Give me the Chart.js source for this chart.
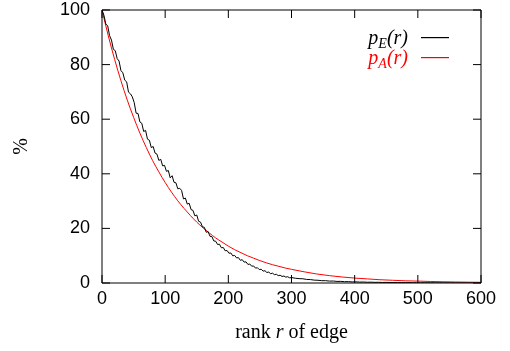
<!DOCTYPE html>
<html>
<head>
<meta charset="utf-8">
<script src="https://cdn.jsdelivr.net/npm/chart.js@4.4.1/dist/chart.umd.min.js"></script>
<style>
  html, body { margin: 0; padding: 0; background: #fff; }
  #wrap { width: 510px; height: 351px; }
</style>
</head>
<body>
<div id="wrap"><canvas id="chart" width="510" height="351"></canvas></div>
<script>
// x axis / y axis ticks
const xTicks = [0, 100, 200, 300, 400, 500, 600];
const yTicks = [0, 20, 40, 60, 80, 100];

// p_E(r): measured curve, read every 3 ranks up to 300, then every 6 ranks
const eHeadStep = 3;
const eHead = [
  100, 98.1, 94.9, 94.2, 90.6, 89.0, 85.6, 85.1, 82.2, 81.3,
  77.8, 77.0, 74.3, 73.7, 69.9, 69.3, 68.2, 66.1, 62.2, 62.1,
  59.0, 58.5, 55.5, 55.9, 52.7, 52.3, 49.6, 50.0, 47.6, 47.2,
  44.9, 45.3, 42.9, 43.1, 40.9, 41.2, 38.5, 39.3, 36.9, 36.7,
  34.5, 34.7, 33.9, 30.8, 31.1, 28.9, 29.2, 26.9, 26.6, 24.6,
  24.9, 22.6, 22.3, 20.6, 20.4, 18.6, 18.8, 17.1, 17.0, 15.4,
  15.3, 14.1, 14.2, 12.9, 13.0, 11.8, 11.9, 10.9, 11.0, 9.95,
  10.1, 9.2, 9.3, 8.3, 8.55, 7.65, 7.75, 6.8, 6.95, 6.15,
  6.25, 5.45, 5.6, 4.9, 5.05, 4.35, 4.5, 3.85, 4.0, 3.4,
  3.6, 3.05, 3.2, 2.7, 2.85, 2.4, 2.55, 2.15, 2.3, 1.9,
  2.0
];
const eTailStart = 306;
const eTailStep = 6;
const eTail = [
  1.75, 1.6, 1.55, 1.3, 1.25, 1.05, 1.0, 0.85, 0.85, 0.7,
  0.72, 0.58, 0.6, 0.48, 0.5, 0.4, 0.42, 0.33, 0.36, 0.28,
  0.3, 0.24, 0.26, 0.2, 0.22, 0.17, 0.19, 0.15, 0.16, 0.12,
  0.14, 0.1, 0.12, 0.08, 0.09, 0.07, 0.08, 0.05, 0.06, 0.04,
  0.05, 0.03, 0.04, 0.02, 0.03, 0.02, 0.02, 0.01, 0.01, 0
];

// p_A(r): smooth curve
const rankA = [0, 10, 20, 30, 40, 50, 60, 70, 80, 90, 100, 110, 120, 130, 140, 150,
  160, 170, 180, 190, 200, 210, 220, 230, 240, 250, 260, 270, 280, 290, 300,
  320, 340, 360, 380, 400, 420, 440, 460, 480, 500, 520, 540, 560, 580, 600];
const pAvals = [100, 90.5, 81.9, 74.1, 67.0, 60.7, 54.9, 49.7, 44.9, 40.7, 36.8, 33.3, 30.1, 27.3, 24.7, 22.3,
  20.2, 18.3, 16.5, 15.0, 13.5, 12.2, 11.1, 10.0, 9.1, 8.2, 7.4, 6.7, 6.1, 5.5, 5.0,
  4.1, 3.3, 2.7, 2.2, 1.8, 1.5, 1.2, 1.0, 0.8, 0.7, 0.55, 0.45, 0.37, 0.3, 0.25];

// legend entries: main letter, subscript, rest
const legendItems = [
  { main: "p", sub: "E", rest: "(r)", color: "#000000" },
  { main: "p", sub: "A", rest: "(r)", color: "#ff0000" }
];

const pE = eHead.map((v, i) => ({ x: i * eHeadStep, y: v }))
  .concat(eTail.map((v, i) => ({ x: eTailStart + i * eTailStep, y: v })));
const pA = rankA.map((r, i) => ({ x: r, y: pAvals[i] }));

const tickFont = { family: "'Liberation Sans', Arial, sans-serif", size: 18 };
const serif = "'Liberation Serif', 'Times New Roman', serif";

// border box, inward ticks on all sides, legend and x title
const framePlugin = {
  id: "frame",
  afterDraw(chart) {
    const { ctx, chartArea: a, scales: { x, y } } = chart;
    ctx.save();
    ctx.strokeStyle = "#000";
    ctx.lineWidth = 1;
    ctx.beginPath();
    ctx.rect(a.left, a.top, a.right - a.left, a.bottom - a.top);
    const tl = 8;
    xTicks.forEach(v => {
      const px = x.getPixelForValue(v);
      ctx.moveTo(px, a.bottom); ctx.lineTo(px, a.bottom - tl);
      ctx.moveTo(px, a.top); ctx.lineTo(px, a.top + tl);
    });
    yTicks.forEach(v => {
      const py = y.getPixelForValue(v);
      ctx.moveTo(a.left, py); ctx.lineTo(a.left + tl, py);
      ctx.moveTo(a.right, py); ctx.lineTo(a.right - tl, py);
    });
    ctx.stroke();

    // legend
    const textRight = 408, lineX0 = 421, lineX1 = 449;
    legendItems.forEach((it, i) => {
      const rowY = 37 + i * 20;
      const base = rowY + 7;
      const bigF = "italic 20px " + serif;
      const subF = "italic 14px " + serif;
      ctx.font = bigF;
      const wMain = ctx.measureText(it.main).width;
      const wRest = ctx.measureText(it.rest).width;
      ctx.font = subF;
      const wSub = ctx.measureText(it.sub).width;
      let xx = textRight - (wMain + wSub + wRest);
      ctx.fillStyle = it.color;
      ctx.textAlign = "left";
      ctx.textBaseline = "alphabetic";
      ctx.font = bigF;
      ctx.fillText(it.main, xx, base);
      xx += wMain;
      ctx.font = subF;
      ctx.fillText(it.sub, xx, base + 4);
      xx += wSub;
      ctx.font = bigF;
      ctx.fillText(it.rest, xx, base);
      // sample line
      ctx.fillRect(lineX0, rowY, lineX1 - lineX0, 1.2);
    });

    // x title with italic r
    const parts = [["rank ", "20px " + serif], ["r", "italic 20px " + serif], [" of edge", "20px " + serif]];
    let total = 0;
    parts.forEach(p => { ctx.font = p[1]; total += ctx.measureText(p[0]).width; });
    let tx = (a.left + a.right) / 2 - total / 2;
    ctx.fillStyle = "#000";
    ctx.textAlign = "left";
    ctx.textBaseline = "alphabetic";
    parts.forEach(p => { ctx.font = p[1]; ctx.fillText(p[0], tx, 338); tx += ctx.measureText(p[0]).width; });
    ctx.restore();
  }
};

new Chart(document.getElementById("chart"), {
  type: "line",
  data: {
    datasets: [
      { label: "p_E(r)", data: pE, borderColor: "#000000", borderWidth: 1, pointRadius: 0, tension: 0 },
      { label: "p_A(r)", data: pA, borderColor: "#ff0000", borderWidth: 1, pointRadius: 0, tension: 0.4, cubicInterpolationMode: "monotone" }
    ]
  },
  options: {
    responsive: false,
    animation: false,
    events: [],
    layout: { padding: { left: 0, right: 29, top: 10, bottom: 0 } },
    plugins: { legend: { display: false }, tooltip: { enabled: false } },
    scales: {
      x: {
        type: "linear", min: 0, max: 600,
        grid: { display: false, drawTicks: false },
        border: { display: false },
        afterBuildTicks: s => { s.ticks = xTicks.map(v => ({ value: v })); },
        afterFit: s => { s.height = 68; s.paddingLeft = 0; s.paddingRight = 0; },
        ticks: { font: tickFont, color: "#000", padding: 5, maxRotation: 0 }
      },
      y: {
        type: "linear", min: 0, max: 100,
        grid: { display: false, drawTicks: false },
        border: { display: false },
        afterBuildTicks: s => { s.ticks = yTicks.map(v => ({ value: v })); },
        afterFit: s => { s.width = 102; s.paddingTop = 0; s.paddingBottom = 0; },
        ticks: { font: tickFont, color: "#000", padding: 12 },
        title: { display: true, text: "%", color: "#000", font: { family: serif, size: 20 }, padding: { top: 10, bottom: 0 } }
      }
    }
  },
  plugins: [framePlugin]
});
</script>
</body>
</html>
